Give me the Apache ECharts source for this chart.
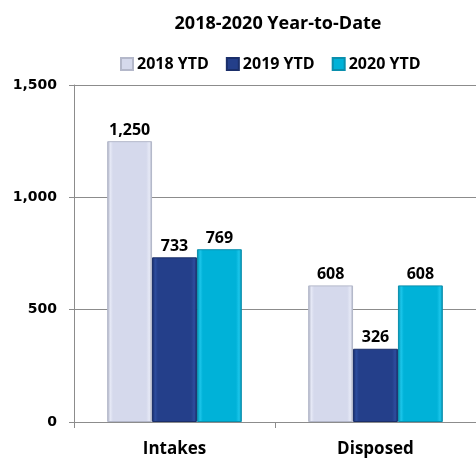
<!DOCTYPE html>
<html><head><meta charset="utf-8">
<script src="https://cdn.jsdelivr.net/npm/echarts@6/dist/echarts.min.js"></script>
<style>html,body{margin:0;padding:0;background:#fff}#c{width:476px;height:458px}</style>
</head><body><div id="c"></div>
<script>
var categories = ['Intakes', 'Disposed'];
var seriesNames = ['2018 YTD', '2019 YTD', '2020 YTD'];
var v2018 = [1250, 608];
var v2019 = [733, 326];
var v2020 = [769, 608];
var yTicks = [0, 500, 1000, 1500];
var FONT = '"Open Sans", sans-serif';
var YFONT = '"DejaVu Sans", sans-serif';
function grad(edge, main, light) {
  return {type:'linear', x:0, y:0, x2:1, y2:0, colorStops:[
    {offset:0, color:edge},{offset:0.07, color:light},{offset:0.13, color:main},
    {offset:0.87, color:main},{offset:0.94, color:light},{offset:1, color:edge}]};
}
var styles = [
  {main:'#D5D9EC', edge:'#A4A8BC', light:'#E6E9F6', border:'#B4B8CA'},
  {main:'#243F8A', edge:'#182C66', light:'#2E4D9E', border:'#1B2F6A'},
  {main:'#00B2D8', edge:'#0089A8', light:'#1CC6EA', border:'#0A8FAD'}
];
var data = [v2018, v2019, v2020];
function fmt(n){ return String(n).replace(/\B(?=(\d{3})+(?!\d))/g, ','); }
var series = seriesNames.map(function(name, i){
  var s = styles[i];
  return {
    name: name, type: 'bar', data: data[i],
    barGap: '0%', barCategoryGap: '33%',
    itemStyle: {color: grad(s.edge, s.main, s.light), borderColor: s.border, borderWidth: 1},
    label: {show: true, position: 'top', distance: 3, color: '#000', fontFamily: FONT,
      fontWeight: 'bold', fontSize: 16, formatter: function(p){ return fmt(p.value); }}
  };
});
var chart = echarts.init(document.getElementById('c'));
chart.setOption({
  animation: false,
  title: {text: '2018-2020 Year-to-Date', left: 273, top: 10, textAlign: 'center',
    textStyle: {fontFamily: FONT, fontWeight: 'bold', fontSize: 18, color: '#000'}},
  legend: {data: seriesNames, top: 51, left: 115, itemWidth: 12, itemHeight: 12, itemGap: 17,
    icon: 'rect',
    textStyle: {fontFamily: FONT, fontWeight: 'bold', fontSize: 16, color: '#000', padding: [0,0,0,-1]}},
  grid: {left: 74, right: -10, top: 85, bottom: 35, containLabel: false},
  xAxis: {type: 'category', data: categories,
    axisLine: {lineStyle: {color: '#8C8C8C'}},
    axisTick: {show: true, length: 6, lineStyle: {color: '#8C8C8C'}},
    axisLabel: {fontFamily: FONT, fontWeight: 'bold', fontSize: 17, color: '#000', margin: 19}},
  yAxis: {type: 'value', min: yTicks[0], max: yTicks[yTicks.length-1], interval: 500,
    axisLine: {show: true, lineStyle: {color: '#8C8C8C'}},
    axisTick: {show: true, length: 5, lineStyle: {color: '#8C8C8C'}},
    splitLine: {lineStyle: {color: '#8C8C8C'}},
    axisLabel: {fontFamily: YFONT, fontWeight: 'bold', fontSize: 14, color: '#000', margin: 17,
      formatter: function(v){ return fmt(v); }}},
  series: series
});
</script></body></html>
